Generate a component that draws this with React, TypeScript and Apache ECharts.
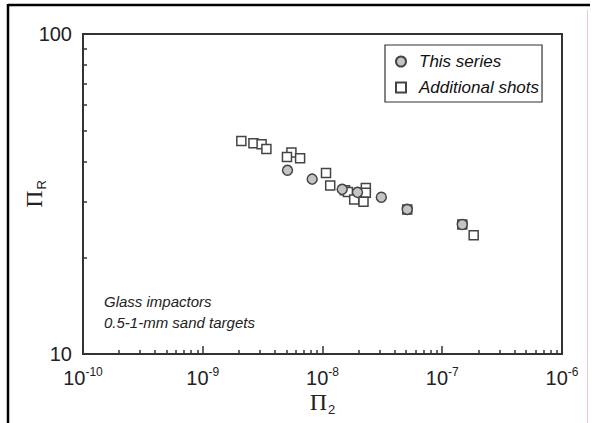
import React, { useEffect, useRef } from "react";
import * as echarts from "echarts";

// ---- data ----
const thisSeriesX = [5.1e-9, 8.2e-9, 1.46e-8, 1.96e-8, 3.1e-8, 5.1e-8, 1.47e-7];
const thisSeriesY = [37.5, 35.2, 32.7, 32.0, 30.9, 28.3, 25.4];

const addShotsX = [2.1e-9, 2.65e-9, 3.1e-9, 3.4e-9, 5.5e-9, 5.05e-9, 6.5e-9, 1.07e-8, 1.16e-8, 1.54e-8, 1.63e-8, 1.84e-8, 2.3e-8, 2.3e-8, 2.2e-8, 5.1e-8, 1.47e-7, 1.83e-7];
const addShotsY = [46.3, 45.6, 45.2, 43.7, 42.6, 41.3, 40.9, 36.8, 33.6, 32.5, 32.1, 30.4, 33.0, 31.9, 29.9, 28.3, 25.4, 23.5];

const seriesNames = ["This series", "Additional shots"];
const annotationLines = ["Glass impactors", "0.5-1-mm sand targets"];

const xMin = 1e-10;
const xMax = 1e-6;
const yMin = 10;
const yMax = 100;

const xMinorTicks = [
  2e-10, 3e-10, 4e-10, 5e-10, 6e-10, 7e-10, 8e-10, 9e-10,
  2e-9, 3e-9, 4e-9, 5e-9, 6e-9, 7e-9, 8e-9, 9e-9,
  2e-8, 3e-8, 4e-8, 5e-8, 6e-8, 7e-8, 8e-8, 9e-8,
  2e-7, 3e-7, 4e-7, 5e-7, 6e-7, 7e-7, 8e-7, 9e-7,
];
const yMinorTicks = [20, 30, 40, 50, 60, 70, 80, 90];

const AXIS_COLOR = "#333";
const SANS = "Liberation Sans";
const SERIF = "Liberation Serif";

export default function App() {
  const ref = useRef<HTMLDivElement>(null);

  useEffect(() => {
    if (!ref.current) return;
    const chart = echarts.init(ref.current, null, { renderer: "svg" });

    const zip = (xs: number[], ys: number[]) => xs.map((x, i) => [x, ys[i]]);

    const option: any = {
      animation: false,
      backgroundColor: "#fff",
      grid: {
        left: 83,
        right: 33,
        top: 34,
        bottom: 69,
        containLabel: false,
        outerBoundsMode: "none",
        show: true,
        borderColor: AXIS_COLOR,
        borderWidth: 2,
        backgroundColor: "transparent",
      },
      legend: {
        data: seriesNames,
        orient: "vertical",
        left: 385,
        top: 45,
        padding: [8, 3, 6, 10],
        itemWidth: 10,
        itemHeight: 10,
        itemGap: 9,
        borderColor: "#333",
        borderWidth: 1.2,
        backgroundColor: "#fff",
        textStyle: {
          fontFamily: SANS,
          fontStyle: "italic",
          fontSize: 17,
          color: "#111",
          padding: [0, 0, 0, 8],
        },
      },
      xAxis: [
        {
          type: "log",
          logBase: 10,
          min: xMin,
          max: xMax,
          position: "bottom",
          name: "{p|Π}{s|2}",
          nameLocation: "middle",
          nameGap: 36,
          nameMoveOverlap: false,
          nameTextStyle: {
            rich: {
              p: { fontFamily: SERIF, fontSize: 24, lineHeight: 24, color: "#222", verticalAlign: "top" },
              s: { fontFamily: SANS, fontSize: 13, lineHeight: 13, color: "#222", verticalAlign: "top", padding: [13, 0, 0, 1] },
            },
          },
          splitLine: { show: false },
          axisLine: { show: true, lineStyle: { color: AXIS_COLOR, width: 2 } },
          axisTick: { show: true, inside: true, length: 8, lineStyle: { color: AXIS_COLOR, width: 1.5 } },
          minorTick: { show: false },
          axisLabel: {
            margin: 12,
            formatter: (v: number) => {
              const e = Math.round(Math.log10(v));
              return "{b|10}{e|" + e + "}";
            },
            rich: {
              b: { fontFamily: SANS, fontSize: 20, lineHeight: 22, color: "#222", verticalAlign: "bottom" },
              e: { fontFamily: SANS, fontSize: 12, lineHeight: 12, color: "#222", verticalAlign: "top" },
            },
          },
        },
        {
          type: "log",
          logBase: 10,
          min: xMin,
          max: xMax,
          position: "bottom",
          offset: 0,
          axisLine: { show: false },
          splitLine: { show: false },
          axisLabel: { show: false },
          axisTick: {
            show: true,
            inside: true,
            length: 4,
            customValues: xMinorTicks,
            lineStyle: { color: AXIS_COLOR, width: 1.5 },
          },
        },
      ],
      yAxis: [
        {
          type: "log",
          logBase: 10,
          min: yMin,
          max: yMax,
          position: "left",
          name: "{p|Π}{s|R}",
          nameLocation: "middle",
          nameRotate: 90,
          nameGap: 37,
          nameMoveOverlap: false,
          nameTextStyle: {
            rich: {
              p: { fontFamily: SERIF, fontSize: 24, lineHeight: 24, color: "#222", verticalAlign: "top" },
              s: { fontFamily: SANS, fontSize: 13, lineHeight: 13, color: "#222", verticalAlign: "top", padding: [13, 0, 0, 1] },
            },
          },
          splitLine: { show: false },
          axisLine: { show: true, lineStyle: { color: AXIS_COLOR, width: 2 } },
          axisTick: { show: true, inside: true, length: 8, lineStyle: { color: AXIS_COLOR, width: 1.5 } },
          axisLabel: {
            margin: 11,
            fontFamily: SANS,
            fontSize: 20,
            color: "#222",
            formatter: (v: number) => String(Math.round(v)),
          },
        },
        {
          type: "log",
          logBase: 10,
          min: yMin,
          max: yMax,
          position: "left",
          offset: 0,
          axisLine: { show: false },
          splitLine: { show: false },
          axisLabel: { show: false },
          axisTick: {
            show: true,
            inside: true,
            length: 4,
            customValues: yMinorTicks,
            lineStyle: { color: AXIS_COLOR, width: 1.5 },
          },
        },
      ],
      series: [
        {
          name: seriesNames[1],
          type: "scatter",
          xAxisIndex: 0,
          yAxisIndex: 0,
          symbol: "rect",
          symbolSize: 9,
          z: 2,
          itemStyle: { color: "#fff", borderColor: "#444", borderWidth: 1.5, opacity: 1 },
          data: zip(addShotsX, addShotsY),
        },
        {
          name: seriesNames[0],
          type: "scatter",
          xAxisIndex: 0,
          yAxisIndex: 0,
          symbol: "circle",
          symbolSize: 10,
          z: 3,
          itemStyle: { color: "#c4c4c4", borderColor: "#444", borderWidth: 1.5, opacity: 1 },
          data: zip(thisSeriesX, thisSeriesY),
        },
      ],
      graphic: [
        { type: "line", shape: { x1: 8, y1: 5, x2: 590, y2: 5 }, style: { stroke: "#000", lineWidth: 2.5 }, silent: true },
        { type: "line", shape: { x1: 8, y1: 4, x2: 8, y2: 423 }, style: { stroke: "#000", lineWidth: 2.5 }, silent: true },
        { type: "line", shape: { x1: 587.5, y1: 10, x2: 587.5, y2: 423 }, style: { stroke: "#f3caca", lineWidth: 1 }, silent: true },
        {
          type: "text",
          left: 104,
          top: 294,
          style: { text: annotationLines[0], fontFamily: SANS, fontStyle: "italic", fontSize: 15, fill: "#222" },
        },
        {
          type: "text",
          left: 104,
          top: 315,
          style: { text: annotationLines[1], fontFamily: SANS, fontStyle: "italic", fontSize: 15, fill: "#222" },
        },
      ],
    };

    chart.setOption(option);
    return () => chart.dispose();
  }, []);

  return (
    <div
      ref={ref}
      style={{ position: "absolute", left: 0, top: 0, width: 595, height: 423 }}
    />
  );
}
